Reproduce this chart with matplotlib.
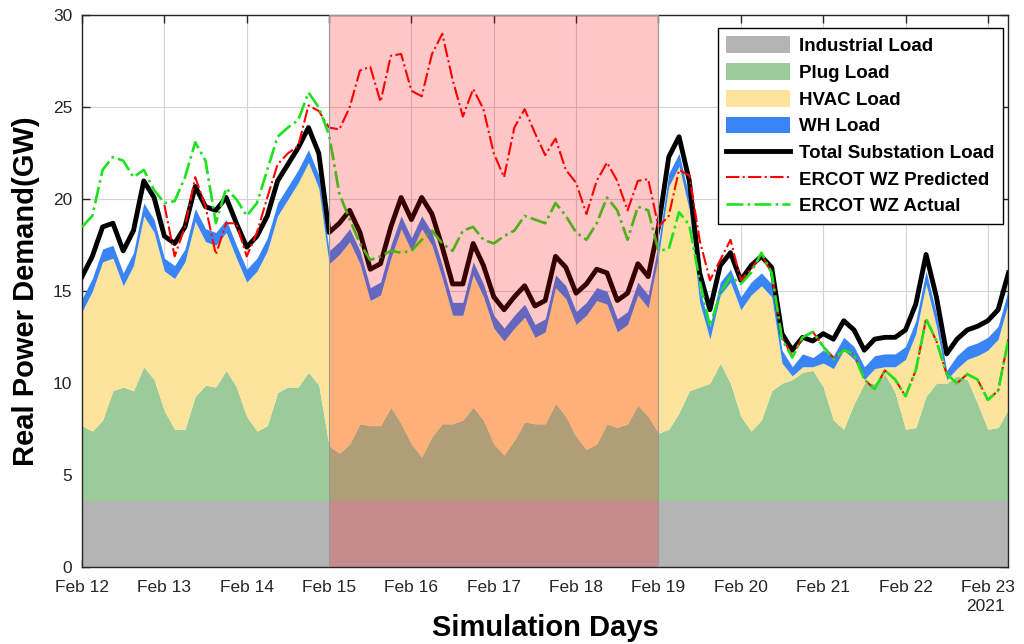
import numpy as np
import pandas as pd
import matplotlib
matplotlib.use("Agg")
import matplotlib.pyplot as plt
import matplotlib.dates as mdates

plt.rcParams['font.family'] = ['Liberation Sans', 'DejaVu Sans']

# 3-hourly samples, Feb 12 00:00 -> Feb 23 06:00 (GW)
times = pd.date_range("2021-02-12 00:00", periods=91, freq="3h")

industrial = 3.65

plug_top = [
    7.7, 7.4, 8.0, 9.6, 9.8, 9.6, 10.9, 10.2,   # Feb 12
    8.5, 7.5, 7.5, 9.3, 9.9, 9.8, 10.7, 9.8,    # Feb 13
    8.2, 7.4, 7.7, 9.5, 9.8, 9.8, 10.6, 9.9,    # Feb 14
    6.6, 6.2, 6.7, 7.8, 7.7, 7.7, 8.7, 7.8,     # Feb 15
    6.7, 6.0, 7.1, 7.8, 7.8, 8.0, 8.7, 8.0,     # Feb 16
    6.7, 6.1, 6.9, 7.9, 7.8, 7.8, 8.9, 8.2,     # Feb 17
    7.1, 6.4, 6.7, 7.8, 7.6, 7.8, 8.8, 8.2,     # Feb 18
    7.3, 7.5, 8.4, 9.6, 9.8, 10.0, 11.1, 10.0,  # Feb 19
    8.2, 7.4, 8.0, 9.6, 10.0, 10.2, 10.6, 10.7, # Feb 20
    9.8, 8.0, 7.5, 8.9, 10.0, 10.0, 10.5, 9.5,  # Feb 21
    7.5, 7.6, 9.3, 10.0, 10.0, 10.4, 10.2, 8.9, # Feb 22
    7.5, 7.6, 8.6,                              # Feb 23
]

hvac_top = [
    13.9, 15.0, 16.6, 16.8, 15.3, 16.4, 19.1, 18.2,
    16.1, 15.7, 16.6, 18.8, 17.7, 17.5, 18.2, 16.8,
    15.5, 16.1, 17.2, 19.1, 20.0, 20.9, 22.0, 20.6,
    16.5, 17.0, 17.7, 16.5, 14.5, 14.8, 16.8, 18.4,
    17.2, 18.4, 17.5, 15.7, 13.7, 13.7, 15.9, 14.7,
    13.0, 12.3, 13.0, 13.6, 12.5, 12.8, 15.2, 14.6,
    13.2, 13.7, 14.5, 14.3, 12.8, 13.2, 14.8, 14.1,
    16.9, 20.7, 21.8, 19.4, 14.4, 12.4, 14.8, 15.5,
    14.0, 14.8, 15.3, 14.7, 11.1, 10.4, 10.9, 10.9,
    11.1, 10.8, 11.8, 11.3, 10.2, 10.8, 10.9, 10.9,
    11.3, 12.7, 15.4, 13.1, 10.2, 10.8, 11.3, 11.5,
    11.8, 12.4, 14.4,
]

wh_top = [
    14.6, 15.7, 17.3, 17.5, 16.0, 17.1, 19.8, 18.9,
    16.8, 16.4, 17.3, 19.5, 18.4, 18.2, 18.9, 17.5,
    16.2, 16.8, 17.9, 19.8, 20.7, 21.6, 22.7, 21.3,
    17.2, 17.7, 18.4, 17.2, 15.2, 15.5, 17.5, 19.1,
    17.9, 19.1, 18.2, 16.4, 14.4, 14.4, 16.6, 15.4,
    13.7, 13.0, 13.7, 14.3, 13.2, 13.5, 15.9, 15.3,
    13.9, 14.4, 15.2, 15.0, 13.5, 13.9, 15.5, 14.8,
    17.6, 21.4, 22.5, 20.1, 15.1, 13.1, 15.5, 16.2,
    14.7, 15.5, 16.0, 15.4, 11.8, 10.9, 11.6, 11.4,
    11.8, 11.5, 12.5, 12.0, 10.9, 11.5, 11.6, 11.6,
    12.0, 13.4, 16.1, 13.8, 10.7, 11.5, 12.0, 12.2,
    12.5, 13.1, 15.1,
]

total_load = [
    15.8, 16.9, 18.5, 18.7, 17.2, 18.3, 21.0, 20.1,
    18.0, 17.6, 18.5, 20.7, 19.6, 19.4, 20.1, 18.7,
    17.4, 18.0, 19.1, 21.0, 21.9, 22.8, 23.9, 22.5,
    18.2, 18.7, 19.4, 18.2, 16.2, 16.5, 18.5, 20.1,
    18.9, 20.1, 19.2, 17.4, 15.4, 15.4, 17.6, 16.4,
    14.7, 14.0, 14.7, 15.3, 14.2, 14.5, 16.9, 16.3,
    14.9, 15.4, 16.2, 16.0, 14.5, 14.9, 16.5, 15.8,
    18.5, 22.3, 23.4, 21.0, 16.0, 14.0, 16.4, 17.1,
    15.6, 16.4, 16.9, 16.3, 12.7, 11.8, 12.5, 12.3,
    12.7, 12.4, 13.4, 12.9, 11.8, 12.4, 12.5, 12.5,
    12.9, 14.3, 17.0, 14.7, 11.6, 12.4, 12.9, 13.1,
    13.4, 14.0, 16.0,
]

ercot_predicted = [
    np.nan, np.nan, np.nan, np.nan, np.nan, np.nan, np.nan, np.nan,
    19.7, 16.9, 18.5, 21.2, 19.6, 17.0, 18.7, 18.7,
    16.9, 18.2, 20.1, 21.9, 22.5, 22.9, 25.1, 24.8,
    23.9, 23.8, 25.0, 27.0, 27.2, 25.3, 27.8, 27.9,
    25.9, 25.6, 27.9, 29.0, 26.5, 24.5, 26.0, 24.9,
    22.5, 21.2, 23.9, 24.9, 23.6, 22.4, 23.3, 21.6,
    20.9, 19.2, 21.0, 22.0, 21.0, 19.4, 21.0, 21.1,
    18.5, 19.1, 21.6, 21.3, 17.8, 15.6, 16.7, 17.8,
    15.6, 16.2, 17.0, 16.0, 12.5, 11.5, 12.5, 12.8,
    12.0, 11.4, 11.8, 11.6, 10.2, 9.7, 10.7, 10.2,
    9.3, 10.7, 13.5, 12.3, 10.5, 10.0, 10.5, 10.2,
    9.1, 9.6, 12.4,
]

ercot_actual = [
    18.5, 19.1, 21.6, 22.3, 22.1, 21.2, 21.6, 20.5,
    19.8, 19.9, 21.2, 23.1, 22.1, 18.7, 20.6, 20.0,
    19.1, 19.8, 21.6, 23.4, 23.9, 24.3, 25.8, 25.0,
    23.5, 20.3, 18.9, 17.6, 16.7, 16.9, 17.2, 17.1,
    17.2, 17.8, 18.3, 17.6, 17.2, 18.3, 18.5, 17.8,
    17.6, 18.0, 18.3, 19.1, 18.9, 18.7, 19.8, 19.1,
    18.2, 17.8, 18.7, 20.1, 19.4, 17.8, 19.6, 19.4,
    17.2, 17.3, 19.3, 18.6, 15.6, 13.1, 14.9, 15.8,
    15.4, 16.0, 17.1, 16.0, 12.4, 11.4, 12.5, 12.8,
    12.0, 11.3, 11.8, 11.6, 10.2, 9.7, 10.7, 10.2,
    9.3, 10.7, 13.5, 12.3, 10.5, 10.0, 10.5, 10.2,
    9.1, 9.6, 12.4,
]

event_start = pd.Timestamp("2021-02-15")
event_end = pd.Timestamp("2021-02-19")

fig = plt.figure(figsize=(10.24, 6.44), dpi=100)
ax = fig.add_axes([0.0801, 0.1191, 0.9047, 0.8571])

ax.fill_between(times, 0, industrial, color='#b4b4b4', lw=0, label='Industrial Load')
ax.fill_between(times, industrial, plug_top, color='#9bcb98', lw=0, label='Plug Load')
ax.fill_between(times, plug_top, hvac_top, color='#fde49c', lw=0, label='HVAC Load')
ax.fill_between(times, hvac_top, wh_top, color='#3a85f5', lw=0, label='WH Load')
ax.plot(times, total_load, color='black', lw=3.5, label='Total Substation Load', zorder=3)
ax.plot(times, ercot_predicted, color='red', ls='-.', lw=1.5, label='ERCOT WZ Predicted', zorder=3)
ax.plot(times, ercot_actual, color='#1ee11e', ls='-.', lw=1.9, label='ERCOT WZ Actual', zorder=3)

ax.axvspan(event_start, event_end, facecolor=(1, 0, 0, 0.22), edgecolor=(0.6, 0.6, 0.6), lw=0.8, zorder=4)

ax.set_xlim(times[0], times[-1])
ax.set_ylim(0, 30)
ax.set_yticks(np.arange(0, 31, 5))
ax.xaxis.set_major_locator(mdates.DayLocator())
ax.xaxis.set_major_formatter(mdates.DateFormatter('%b %d'))

ax.set_axisbelow(True)
ax.grid(True, color='#d4d4d4', lw=0.8)
ax.tick_params(direction='in', length=6, width=1, top=True, right=True, labelsize=12.5, colors='#262626')
ax.tick_params(axis='x', pad=9)
ax.tick_params(axis='y', pad=7)
for s in ax.spines.values():
    s.set_color('#262626')
    s.set_linewidth(1)

ax.set_ylabel('Real Power Demand(GW)', fontsize=21, fontweight='bold', labelpad=9)
ax.set_xlabel('Simulation Days', fontsize=21, fontweight='bold', labelpad=14)
fig.text(0.962, 0.058, '2021', fontsize=12.5, ha='center', va='center', color='#262626')

leg = ax.legend(loc='upper right', bbox_to_anchor=(0.994, 0.977), borderaxespad=0,
                prop={'weight': 'bold', 'size': 13.5}, frameon=True, fancybox=False,
                framealpha=1, edgecolor='black', handlelength=3.4, handleheight=1.0,
                labelspacing=0.42, borderpad=0.45, handletextpad=0.5)
leg.get_frame().set_linewidth(1)
leg.set_zorder(6)

fig.savefig('out.png', dpi=100)
